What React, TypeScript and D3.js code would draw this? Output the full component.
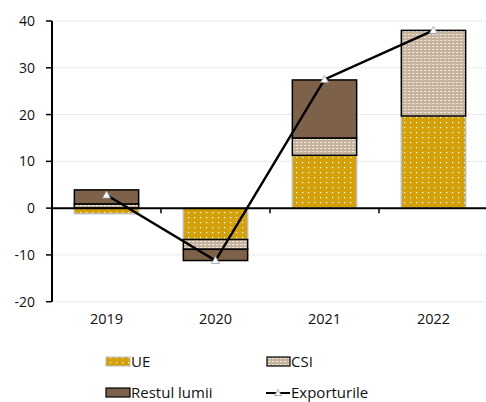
import React from "react";
import * as d3 from "d3";

const years = ["2019", "2020", "2021", "2022"];
const ue = [-1.2, -6.7, 11.3, 19.7];
const csi = [0.9, -2.1, 3.7, 18.3];
const restul = [3.0, -2.4, 12.4, 0];
const exporturile = [2.8, -11.2, 27.5, 38.0];
const yTicks = [-20, -10, 0, 10, 20, 30, 40];

const W = 486, H = 402;
const FONT = "'Open Sans', sans-serif";

export default function App() {
  const x = d3.scaleBand().domain(years).range([52, 488]).paddingInner(0.41).paddingOuter(0.205);
  const y = d3.scaleLinear().domain([-20, 40]).range([301.7, 21]);
  const series = [
    { key: "UE", vals: ue, fill: "url(#pUE)", stroke: "#bdbdbd" },
    { key: "CSI", vals: csi, fill: "url(#pCSI)", stroke: "#000" },
    { key: "Restul lumii", vals: restul, fill: "#7d6149", stroke: "#000" },
  ];
  const rects: any[] = [];
  years.forEach((yr, i) => {
    let pos = 0, neg = 0;
    series.forEach((s) => {
      const v = s.vals[i];
      if (v === 0) return;
      let y0, y1;
      if (v >= 0) { y0 = pos; y1 = pos + v; pos = y1; } else { y0 = neg; y1 = neg + v; neg = y1; }
      rects.push(
        <rect key={s.key + yr} x={x(yr)} width={x.bandwidth()} y={y(Math.max(y0, y1))}
          height={Math.abs(y(y0) - y(y1))} fill={s.fill} stroke={s.stroke} strokeWidth={1.5} />
      );
    });
  });
  const cx = (yr: string) => (x(yr) as number) + x.bandwidth() / 2;
  const line = d3.line<number>().x((d, i) => cx(years[i])).y((d) => y(d));
  const tri = (px: number, py: number, s = 4) =>
    `M${px},${py - s}L${px + s},${py + s * 0.75}L${px - s},${py + s * 0.75}Z`;
  const bounds = [52, ...years.map((yr) => (x(yr) as number) + x.bandwidth() + (x.step() - x.bandwidth()) / 2)];
  return (
    <svg width={W} height={H} style={{ position: "absolute", left: 0, top: 0 }} fontFamily={FONT}>
      <defs>
        <pattern id="pUE" width="6" height="5" patternUnits="userSpaceOnUse">
          <rect width="6" height="5" fill="#d4a10a" />
          <rect x="2" y="2" width="1.2" height="1.2" fill="#fff" />
        </pattern>
        <pattern id="pCSI" width="4" height="3" patternUnits="userSpaceOnUse">
          <rect width="4" height="3" fill="#c6b39e" />
          <rect x="0" y="1" width="2.5" height="1" fill="#ece4da" />
        </pattern>
      </defs>
      <rect width={W} height={H} fill="#fff" />
      {yTicks.filter((t) => t !== 0).map((t) => (
        <line key={t} x1={52} x2={486} y1={y(t)} y2={y(t)} stroke="#e4e4e4" strokeWidth={1} strokeDasharray="3,1" />
      ))}
      {rects}
      <line x1={52} x2={486} y1={y(0)} y2={y(0)} stroke="#000" strokeWidth={2} />
      {bounds.slice(1, 4).map((b, i) => (
        <line key={i} x1={b} x2={b} y1={y(0)} y2={y(0) + 5} stroke="#000" strokeWidth={1.5} />
      ))}
      <line x1={52} x2={52} y1={y(40)} y2={y(-20)} stroke="#000" strokeWidth={2} />
      {yTicks.map((t) => (
        <g key={t}>
          <line x1={46} x2={52} y1={y(t)} y2={y(t)} stroke="#000" strokeWidth={1.5} />
          <text x={35} y={y(t)} dy="0.36em" textAnchor="end" fontSize={14} fill="#111">{t}</text>
        </g>
      ))}
      {years.map((yr) => (
        <text key={yr} x={cx(yr)} y={324} textAnchor="middle" fontSize={14.5} fill="#111">{yr}</text>
      ))}
      <path d={line(exporturile) as string} fill="none" stroke="#000" strokeWidth={2.5} />
      {exporturile.map((v, i) => (
        <path key={i} d={tri(cx(years[i]), y(v))} fill="#fff" stroke="#999" strokeWidth={0.8} />
      ))}
      {/* legend */}
      <g fontSize={15} fill="#111">
        <rect x={106} y={357} width={24} height={9} fill="url(#pUE)" stroke="#bdbdbd" strokeWidth={1} />
        <text x={131} y={367}>UE</text>
        <rect x={267} y={357} width={23} height={9} fill="url(#pCSI)" stroke="#000" strokeWidth={1.2} />
        <text x={291} y={367}>CSI</text>
        <rect x={106} y={388} width={24} height={9} fill="#7d6149" stroke="#000" strokeWidth={1.2} />
        <text x={131} y={398}>Restul lumii</text>
        <line x1={266} x2={290} y1={393} y2={393} stroke="#000" strokeWidth={2} />
        <path d={tri(278, 393, 3.5)} fill="#fff" stroke="#999" strokeWidth={0.8} />
        <text x={291} y={398}>Exporturile</text>
      </g>
    </svg>
  );
}
